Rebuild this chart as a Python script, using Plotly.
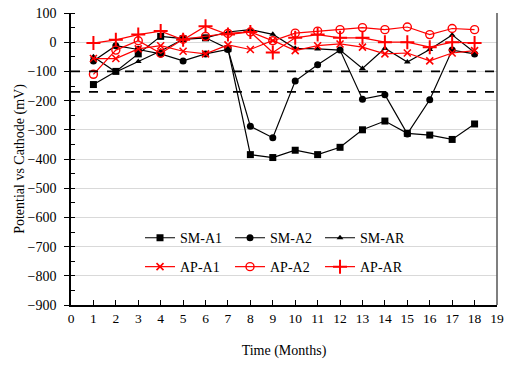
import plotly.graph_objects as go

months = list(range(1, 19))
sm_a1 = [-145, -100, -40, 20, 12, 15, -22, -385, -395, -370, -385, -360, -300, -270, -312, -318, -333, -280]
sm_a2 = [-64, -12, -25, -40, -64, -40, -25, -288, -327, -133, -77, -27, -195, -180, -314, -197, -27, -40]
sm_ar = [-50, -102, -66, -30, 10, 15, 35, 43, 27, -21, -23, -27, -90, -21, -68, -25, 25, -35]
ap_a1 = [-56, -56, -23, -12, -31, -40, -9, -25, 6, -29, -12, -6, -17, -40, -37, -64, -37, -29]
ap_a2 = [-110, -27, 5, -38, 10, 20, 30, 35, 5, 31, 38, 43, 50, 43, 52, 26, 47, 43]
ap_ar = [-3, 8, 26, 38, 8, 55, 26, 35, -35, 15, 26, 15, 15, 0, 0, -17, 0, -3]
thresholds = [-100, -170]

FONT = "Liberation Serif, Times New Roman, serif"

series = [
    ("SM-A1", sm_a1, "black", dict(symbol="square", size=7, color="black"), "legend"),
    ("SM-A2", sm_a2, "black", dict(symbol="circle", size=7, color="black"), "legend"),
    ("SM-AR", sm_ar, "black", dict(symbol="triangle-up", size=6, color="black"), "legend"),
    ("AP-A1", ap_a1, "red", dict(symbol="x-thin", size=7, color="red", line=dict(color="red", width=1.6)), "legend2"),
    ("AP-A2", ap_a2, "red", dict(symbol="circle-open", size=8, color="red", line=dict(color="red", width=1.4)), "legend2"),
    ("AP-AR", ap_ar, "red", dict(symbol="cross-thin", size=10, color="red", line=dict(color="red", width=2)), "legend2"),
]

fig = go.Figure()
for name, vals, col, mk, lg in series:
    fig.add_trace(go.Scatter(x=months, y=vals, name=name, mode="lines+markers",
                             line=dict(color=col, width=1.2), marker=mk, legend=lg))

for t in thresholds:
    fig.add_shape(type="line", xref="x", yref="y", x0=0, x1=19, y0=t, y1=t,
                  line=dict(color="black", width=1.6, dash="dash"))

# right frame line
fig.add_shape(type="line", xref="paper", yref="paper", x0=1, x1=1, y0=0, y1=1,
              line=dict(color="#555555", width=1.5))

leg_common = dict(orientation="h", xanchor="left", yanchor="middle",
                  entrywidth=45, entrywidthmode="pixels", bgcolor="rgba(0,0,0,0)",
                  font=dict(family=FONT, size=14), itemwidth=30, tracegroupgap=0)

fig.update_layout(
    width=510, height=369,
    margin=dict(l=71, r=13, t=13, b=64, autoexpand=False),
    paper_bgcolor="white", plot_bgcolor="white",
    font=dict(family=FONT, size=13, color="black"),
    showlegend=True,
    legend=dict(x=0.162, y=0.229, **leg_common),
    legend2=dict(x=0.162, y=0.13, **leg_common),
    xaxis=dict(range=[0, 19], dtick=1, tick0=0, showgrid=False, zeroline=False,
               showline=True, linecolor="black", linewidth=1.5, automargin=False,
               ticks="inside", ticklen=5, tickcolor="black", tickfont=dict(family=FONT, size=13.5),
               title=dict(text="Time (Months)", font=dict(family=FONT, size=14), standoff=20)),
    yaxis=dict(range=[-900, 100], dtick=100, tick0=0, showgrid=True, gridcolor="#d9d9d9",
               gridwidth=1, zeroline=False, showline=True, linecolor="black", linewidth=1.5,
               ticks="outside", ticklen=5, tickcolor="black", automargin=False,
               tickfont=dict(family=FONT, size=14), ticklabelstandoff=5,
               minor=dict(dtick=50, ticks="inside", ticklen=4, tickcolor="black", showgrid=False),
               title=dict(text="Potential vs Cathode (mV)", font=dict(family=FONT, size=14), standoff=0)),
)

fig.write_html("out.html", config={"displayModeBar": False},
               post_script="document.body.style.margin='0px';")
